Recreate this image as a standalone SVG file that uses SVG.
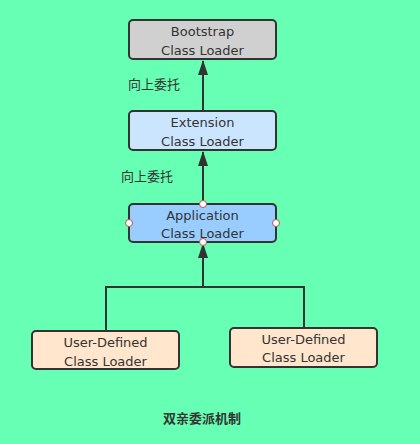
<svg xmlns="http://www.w3.org/2000/svg" width="420" height="444" viewBox="0 0 420 444">
<defs>
<style>
.box{stroke:#333;stroke-width:2}
.t{font-family:"DejaVu Sans","Liberation Sans",sans-serif;font-size:13px;fill:#333;text-anchor:middle}
.lbl{font-family:"Noto Sans CJK SC",sans-serif;font-size:13px;fill:#333}
.ln{fill:none;stroke:#333;stroke-width:2}
.pt{fill:#fff;stroke:#b85450;stroke-width:1}
</style>
<marker id="ah" markerUnits="userSpaceOnUse" markerWidth="12" markerHeight="16" viewBox="0 0 12 16" refX="6" refY="1" orient="0">
<path d="M6 0 L11 15 L1 15 Z" fill="#333"/>
</marker>
</defs>
<rect width="420" height="444" fill="#66FFB3"/>
<g id="connectors">
<path class="ln" d="M203 111 V61" marker-end="url(#ah)"/>
<path class="ln" d="M203 204 V152" marker-end="url(#ah)"/>
<path class="ln" d="M106 331 V287 H304 V328"/>
<path class="ln" d="M203 287 V244" marker-end="url(#ah)"/>
</g>
<g id="bootstrap">
<rect class="box" x="129" y="20" width="147" height="39" rx="4" fill="#D0D0D0"/>
<text class="t" x="202.5" y="36">Bootstrap</text>
<text class="t" x="202.5" y="55">Class Loader</text>
</g>
<g id="extension">
<rect class="box" x="129" y="111" width="147" height="39" rx="4" fill="#CCE5FF"/>
<text class="t" x="202.5" y="127">Extension</text>
<text class="t" x="202.5" y="146">Class Loader</text>
</g>
<g id="application">
<rect class="box" x="129" y="204" width="147" height="38" rx="4" fill="#99CCFF"/>
<text class="t" x="202.5" y="220">Application</text>
<text class="t" x="202.5" y="238">Class Loader</text>
<circle class="pt" cx="203" cy="204" r="3.5"/>
<circle class="pt" cx="129" cy="223" r="3.5"/>
<circle class="pt" cx="276" cy="223" r="3.5"/>
<circle class="pt" cx="203" cy="242" r="3.5"/>
</g>
<g id="user1">
<rect class="box" x="32" y="331" width="147" height="38" rx="4" fill="#FFE6CC"/>
<text class="t" x="105.5" y="347">User-Defined</text>
<text class="t" x="105.5" y="366">Class Loader</text>
</g>
<g id="user2">
<rect class="box" x="230" y="328" width="147" height="39" rx="4" fill="#FFE6CC"/>
<text class="t" x="303.5" y="344">User-Defined</text>
<text class="t" x="303.5" y="362">Class Loader</text>
</g>
<g id="labels">
<text class="lbl" x="128" y="89">向上委托</text>
<text class="lbl" x="121" y="181">向上委托</text>
<text class="lbl" x="202" y="423" text-anchor="middle" font-weight="bold">双亲委派机制</text>
</g>
</svg>
